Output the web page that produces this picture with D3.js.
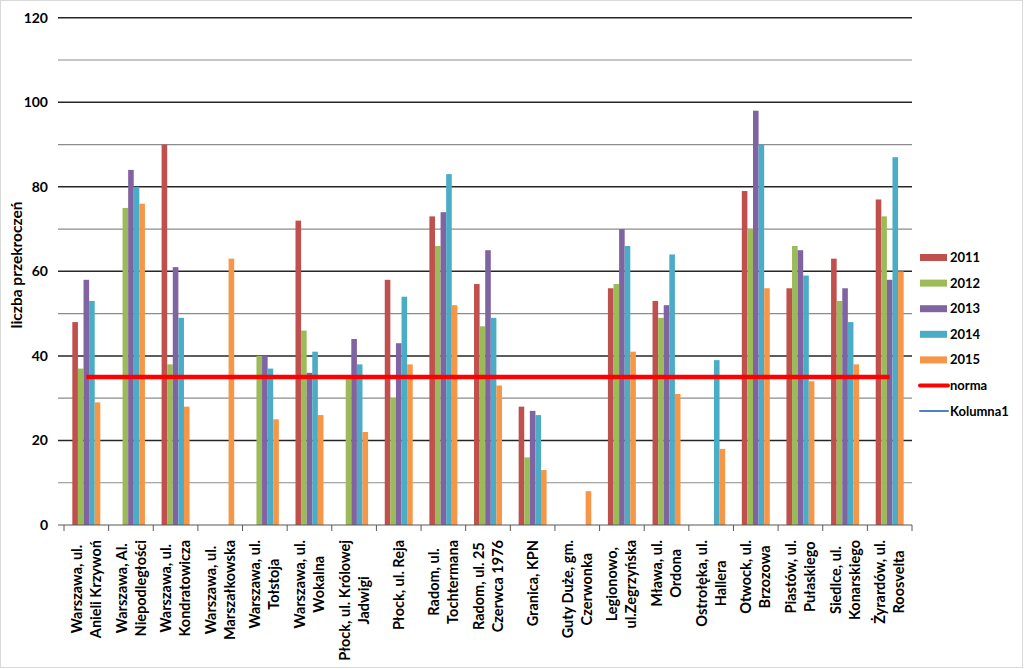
<!DOCTYPE html>
<html>
<head>
    <meta charset="utf-8">
    <title>Liczba przekroczeń</title>
    <script src="https://d3js.org/d3.v7.min.js"></script>
    <style>
        body { margin:0; background:#fff; }
        text { font-family: Lato, "Open Sans", sans-serif; font-weight:bold; fill:#000; }
    </style>
</head>
<body>
    <script>
    // stacje pomiarowe (każda etykieta w dwóch liniach jak w oryginale)
    var stations = [
        ["Warszawa, ul.", "Anieli Krzywoń"],
        ["Warszawa, Al.", "Niepodległości"],
        ["Warszawa, ul.", "Kondratowicza"],
        ["Warszawa, ul.", "Marszałkowska"],
        ["Warszawa, ul.", "Tołstoja"],
        ["Warszawa, ul.", "Wokalna"],
        ["Płock, ul. Królowej", "Jadwigi"],
        ["Płock, ul. Reja"],
        ["Radom, ul.", "Tochtermana"],
        ["Radom, ul. 25", "Czerwca 1976"],
        ["Granica, KPN"],
        ["Guty Duże, gm.", "Czerwonka"],
        ["Legionowo,", "ul.Zegrzyńska"],
        ["Mława, ul.", "Ordona"],
        ["Ostrołęka, ul.", "Hallera"],
        ["Otwock, ul.", "Brzozowa"],
        ["Piastów, ul.", "Pułaskiego"],
        ["Siedlce, ul.", "Konarskiego"],
        ["Żyrardów, ul.", "Roosvelta"]
    ];
    var years = ["2011", "2012", "2013", "2014", "2015"];
    var v2011 = [48, null, 90, null, null, 72, null, 58, 73, 57, 28, null, 56, 53, null, 79, 56, 63, 77];
    var v2012 = [37, 75, 38, null, 40, 46, 35, 30, 66, 47, 16, null, 57, 49, null, 70, 66, 53, 73];
    var v2013 = [58, 84, 61, null, 40, 36, 44, 43, 74, 65, 27, null, 70, 52, null, 98, 65, 56, 58];
    var v2014 = [53, 80, 49, null, 37, 41, 38, 54, 83, 49, 26, null, 66, 64, 39, 90, 59, 48, 87];
    var v2015 = [29, 76, 28, 63, 25, 26, 22, 38, 52, 33, 13, 8, 41, 31, 18, 56, 34, 38, 60];
    var norma = 35;
    var yTicks = [0, 20, 40, 60, 80, 100, 120];
    var colors = ["#C0504D", "#9BBB59", "#8064A2", "#4BACC6", "#F79646"];

    var series = [v2011, v2012, v2013, v2014, v2015];
    var ids = stations.map(function(d, i) { return i; });

    var svg = d3.select("body").append("svg")
        .attr("width", 1024).attr("height", 669);

    svg.append("rect").attr("x", 0.5).attr("y", 0.5).attr("width", 1022).attr("height", 667)
        .attr("fill", "#fff").attr("stroke", "#d9d9d9");

    var plotL = 64, plotR = 912, plotT = 17.7, plotB = 525;

    var x = d3.scaleBand().domain(ids).range([plotL, plotR]).paddingInner(0).paddingOuter(0);
    var xs = d3.scaleBand().domain(years).range([0, x.bandwidth()]).paddingInner(0).paddingOuter(1.49);
    var y = d3.scaleLinear().domain([0, 120]).range([plotB, plotT]);

    // linie siatki: co 10, główne co 20
    var grid = svg.append("g");
    d3.range(10, 121, 10).forEach(function(v) {
        var major = v % 20 === 0;
        grid.append("line")
            .attr("x1", plotL - 6).attr("x2", plotR)
            .attr("y1", y(v)).attr("y2", y(v))
            .attr("stroke", major ? "#262626" : "#8c8c8c")
            .attr("stroke-width", major ? 1.5 : 1.2);
    });

    // słupki
    series.forEach(function(vals, s) {
        svg.append("g").selectAll("rect")
            .data(vals.map(function(v, i) { return {i: i, v: v}; }).filter(function(d) { return d.v !== null; }))
            .enter().append("rect")
            .attr("x", function(d) { return x(d.i) + xs(years[s]); })
            .attr("y", function(d) { return y(d.v); })
            .attr("width", xs.bandwidth())
            .attr("height", function(d) { return y(0) - y(d.v); })
            .attr("fill", colors[s]);
    });

    // oś X
    svg.append("line").attr("x1", plotL - 6).attr("x2", plotR)
        .attr("y1", plotB).attr("y2", plotB).attr("stroke", "#595959").attr("stroke-width", 1.2);
    svg.append("g").selectAll("line").data(d3.range(stations.length + 1)).enter().append("line")
        .attr("x1", function(d) { return plotL + d * x.step(); })
        .attr("x2", function(d) { return plotL + d * x.step(); })
        .attr("y1", plotB).attr("y2", plotB + 6)
        .attr("stroke", "#595959");

    // linia normy
    var normaLine = d3.line().x(function(d) { return x(d) + x.bandwidth() / 2; }).y(function() { return y(norma); });
    svg.append("path").attr("d", normaLine(ids))
        .attr("fill", "none").attr("stroke", "#FF0000").attr("stroke-width", 4.5);

    // etykiety osi Y
    svg.append("g").selectAll("text").data(yTicks).enter().append("text")
        .attr("x", 48).attr("y", function(d) { return y(d); })
        .attr("dy", "0.35em").attr("text-anchor", "end")
        .style("font-size", "14px")
        .text(function(d) { return d; });

    svg.append("text")
        .attr("transform", "translate(17," + 265 + ") rotate(-90)")
        .attr("text-anchor", "middle").attr("dy", "0.35em")
        .style("font-size", "15.5px")
        .text("liczba przekroczeń");

    // etykiety kategorii (obrócone, linie wyśrodkowane w bloku)
    var labelTop = 540;
    stations.forEach(function(lines, i) {
        var cx = x(i) + x.bandwidth() / 2;
        var g = svg.append("g");
        var t = g.selectAll("text").data(lines).enter().append("text")
            .attr("text-anchor", "middle").attr("dy", "0.35em")
            .style("font-size", "14.5px")
            .text(function(d) { return d; });
        var maxLen = 0;
        t.each(function() { maxLen = Math.max(maxLen, this.getComputedTextLength()); });
        var cy = labelTop + maxLen / 2;
        t.attr("transform", function(d, k) {
            var off = (k - (lines.length - 1) / 2) * 19;
            return "translate(" + (cx + off) + "," + cy + ") rotate(-90)";
        });
    });

    // legenda
    var legend = svg.append("g");
    var items = years.map(function(yr, s) { return {name: yr, type: "bar", color: colors[s]}; })
        .concat([{name: "norma", type: "line", color: "#FF0000", w: 4}, {name: "Kolumna1", type: "line", color: "#4F81BD", w: 2}]);
    items.forEach(function(d, k) {
        var ly = 257.5 + k * 25.6;
        if (d.type === "bar") {
            legend.append("rect").attr("x", 920).attr("y", ly - 3.5).attr("width", 27).attr("height", 7).attr("fill", d.color);
        } else {
            legend.append("line").attr("x1", 920).attr("x2", 948).attr("y1", ly).attr("y2", ly)
                .attr("stroke", d.color).attr("stroke-width", d.w).attr("stroke-linecap", "round");
        }
        legend.append("text").attr("x", 950).attr("y", ly).attr("dy", "0.35em")
            .style("font-size", "13px").text(d.name);
    });
    </script>
</body>
</html>
